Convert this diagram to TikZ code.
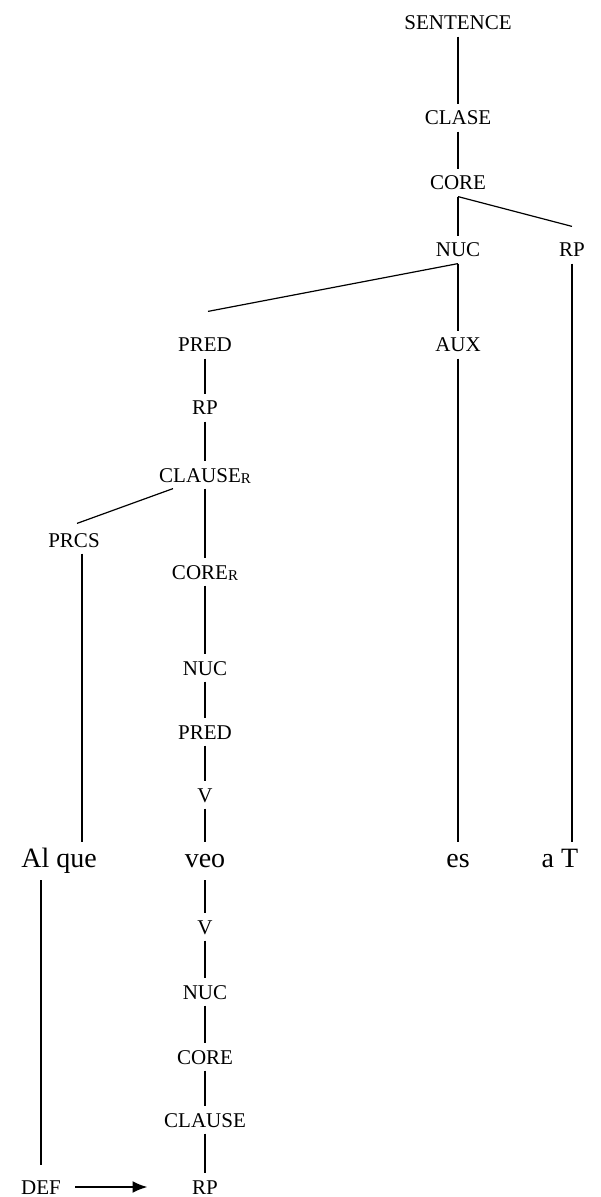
\documentclass[tikz,border=0pt]{standalone}
\usepackage{fontspec}
\setmainfont{Liberation Serif}
\usetikzlibrary{calc, arrows.meta}

\newcommand{\subR}{\raisebox{-0.6pt}{\fontsize{7.5}{8}\selectfont R}}

\begin{document}
\begin{tikzpicture}[x=0.5pt, y=-0.5pt, line width=0.6pt, >={Latex[length=7.5pt,width=6pt]},
    lbl/.style={font=\fontsize{10.5}{12}\selectfont, inner xsep=2pt, inner ysep=3pt,
        text height=7pt, text depth=0pt},
    word/.style={font=\fontsize{14}{16}\selectfont, inner xsep=2pt, inner ysep=3pt,
        text height=9.5pt, text depth=3pt}]
    \useasboundingbox (0,0) rectangle (600,1197);

    % Nhánh trên
    \node[lbl] (sentence) at (458,23) {SENTENCE};
    \node[lbl] (clase) at (458,118) {CLASE};
    \node[lbl] (core) at (458,183) {CORE};
    \node[lbl] (nuc) at (458,250) {NUC};
    \node[lbl] (rp) at (572,250) {RP};
    \node[lbl] (pred) at (205,345) {PRED};
    \node[lbl] (aux) at (458,345) {AUX};

    % Mệnh đề quan hệ
    \node[lbl] (rpb) at (205,408) {RP};
    \node[lbl] (clauser) at (205,475) {CLAUSE\subR};
    \node[lbl] (prcs) at (74,540) {PRCS};
    \node[lbl] (corer) at (205,572) {CORE\subR};
    \node[lbl] (nucb) at (205,668) {NUC};
    \node[lbl] (predb) at (205,732) {PRED};
    \node[lbl] (v) at (205,795) {V};

    % Các từ
    \node[word] (alque) at (59,861) {Al que};
    \node[word] (veo) at (205,861) {veo};
    \node[word] (es) at (458,861) {es};
    \node[word] (at) at (560,861) {a T};

    % Nhánh dưới
    \node[lbl] (vb) at (205,927) {V};
    \node[lbl] (nucc) at (205,992) {NUC};
    \node[lbl] (coreb) at (205,1057) {CORE};
    \node[lbl] (clause) at (205,1120) {CLAUSE};
    \node[lbl] (rpc) at (205,1187) {RP};
    \node[lbl] (def) at (41,1187) {DEF};

    % Các cạnh
    \draw (sentence) -- (clase);
    \draw (clase) -- (core);
    \draw (core) -- (nuc);
    \draw (core.south) -- ([yshift=5pt]rp.north);
    \draw (nuc) -- (aux);
    \draw (nuc.south) -- ([xshift=1.5pt,yshift=10pt]pred.north);
    \draw (pred) -- (rpb);
    \draw (rpb) -- (clauser);
    \draw ([xshift=-16pt]clauser.south) -- ([xshift=1.5pt,yshift=1.5pt]prcs.north);
    \draw (clauser) -- (corer);
    \draw (corer) -- (nucb);
    \draw (nucb) -- (predb);
    \draw (predb) -- (v);
    \draw (v) -- (veo);
    \draw (veo) -- (vb);
    \draw (vb) -- (nucc);
    \draw (nucc) -- (coreb);
    \draw (coreb) -- (clause);
    \draw (clause) -- (rpc);
    \draw (aux) -- (es);
    \draw (rp.south) -- (rp.south |- at.north);
    \coordinate (prcsfoot) at ([xshift=4pt]prcs.south);
    \draw (prcsfoot) -- (prcsfoot |- alque.north);
    \draw (def.north |- alque.south) -- ([yshift=4pt]def.north);
    \draw[->, line width=1.1pt, shorten <=5pt, shorten >=20pt] (def) -- (rpc);
\end{tikzpicture}
\end{document}
